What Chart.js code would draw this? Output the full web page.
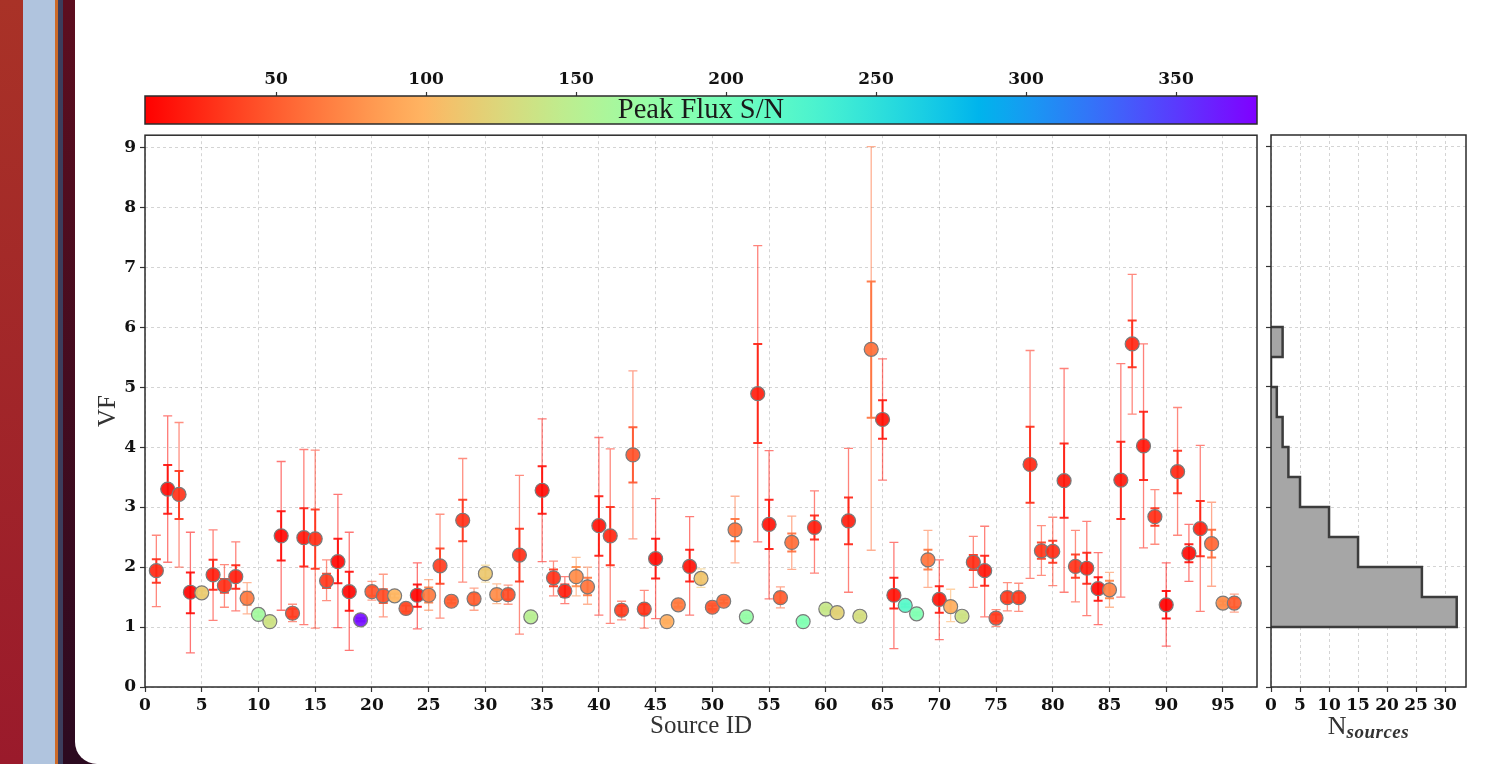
<!DOCTYPE html>
<html>
<head>
<meta charset="utf-8">
<title>VF per source</title>
<script src="https://cdn.jsdelivr.net/npm/chart.js@4.4.1/dist/chart.umd.min.js"></script>
<style>
  html, body { margin: 0; padding: 0; }
  body { width: 1485px; height: 764px; overflow: hidden; position: relative; background: #2c0a20; }
  .strip { position: absolute; top: 0; height: 764px; }
  #panel { position: absolute; left: 75px; top: 0; width: 1410px; height: 764px; background: #fff; border-bottom-left-radius: 22px; }
  .box { position: absolute; }
  #histTitle { position: absolute; left: 1271px; width: 195px; top: 711px; line-height: 30px; text-align: center;
               font-family: "Liberation Serif", serif; font-size: 26px; color: #333; }
  #histTitle span { font-style: italic; font-weight: bold; font-size: 19px; position: relative; top: 4px; letter-spacing: 0.5px; }
</style>
</head>
<body>
<div class="strip" style="left:0;width:23px;background:linear-gradient(#a93227,#9a1a2b)"></div>
<div class="strip" style="left:23px;width:32px;background:#b0c4de"></div>
<div class="strip" style="left:55px;width:3px;background:#cd6a28"></div>
<div class="strip" style="left:58px;width:5px;background:#3c3d5c"></div>
<div class="strip" style="left:63px;width:12px;background:linear-gradient(#5d0e1f,#2c0a20)"></div>
<div id="panel"></div>

<div class="box" style="left:80px;top:40px"><canvas id="colorbar" width="1190" height="88"></canvas></div>
<div class="box" style="left:80px;top:121px"><canvas id="mainChart" width="1190" height="624"></canvas></div>
<div class="box" style="left:1230px;top:125px"><canvas id="histChart" width="255" height="620"></canvas></div>
<div id="histTitle">N<span>sources</span></div>

<script>
// Source IDs (x axis)
const sourceIds = [1, 2, 3, 4, 5, 6, 7, 8, 9, 10, 11, 12, 13, 14, 15, 16, 17, 18, 19, 20,
  21, 22, 23, 24, 25, 26, 27, 28, 29, 30, 31, 32, 33, 34, 35, 36, 37, 38, 39, 40,
  41, 42, 43, 44, 45, 46, 47, 48, 49, 50, 51, 52, 53, 54, 55, 56, 57, 58, 59, 60,
  61, 62, 63, 64, 65, 66, 67, 68, 69, 70, 71, 72, 73, 74, 75, 76, 77, 78, 79, 80,
  81, 82, 83, 84, 85, 86, 87, 88, 89, 90, 91, 92, 93, 94, 95, 96];

// VF value per source
const vf = [1.94, 3.30, 3.21, 1.58, 1.57, 1.87, 1.69, 1.84, 1.48, 1.21, 1.09, 2.52, 1.23, 2.49, 2.47, 1.77, 2.09, 1.59, 1.12, 1.59,
  1.52, 1.52, 1.31, 1.53, 1.53, 2.02, 1.43, 2.78, 1.47, 1.89, 1.54, 1.54, 2.20, 1.17, 3.28, 1.82, 1.60, 1.84, 1.67, 2.69,
  2.52, 1.28, 3.87, 1.30, 2.14, 1.09, 1.37, 2.01, 1.81, 1.33, 1.43, 2.62, 1.17, 4.89, 2.71, 1.49, 2.41, 1.09, 2.66, 1.30,
  1.24, 2.77, 1.18, 5.63, 4.46, 1.53, 1.36, 1.22, 2.12, 1.46, 1.34, 1.18, 2.08, 1.94, 1.15, 1.49, 1.49, 3.71, 2.27, 2.26,
  3.44, 2.01, 1.98, 1.64, 1.62, 3.45, 5.72, 4.02, 2.84, 1.37, 3.59, 2.23, 2.64, 2.39, 1.40, 1.40];

// Peak flux S/N per source (sets marker colour)
const snr = [25, 12, 30, 8, 115, 20, 28, 20, 65, 165, 135, 10, 35, 18, 28, 33, 10, 10, 370, 45,
  42, 100, 40, 8, 65, 35, 50, 30, 50, 113, 75, 42, 28, 150, 12, 30, 20, 75, 62, 15,
  25, 35, 45, 30, 12, 95, 65, 15, 110, 45, 55, 60, 175, 20, 15, 50, 58, 190, 20, 140,
  120, 20, 130, 60, 15, 15, 220, 190, 62, 15, 95, 135, 28, 18, 35, 33, 33, 25, 32, 27,
  18, 30, 20, 12, 70, 18, 25, 18, 28, 6, 25, 12, 20, 55, 75, 50];

// inner (1 sigma) error bounds
const innerLo = [1.74, 2.89, 2.80, 1.23, 1.53, 1.62, 1.57, 1.64, 1.37, 1.18, 1.07, 2.11, 1.17, 2.01, 1.97, 1.65, 1.73, 1.27, 1.10, 1.52,
  1.40, 1.49, 1.26, 1.34, 1.41, 1.72, 1.40, 2.43, 1.38, 1.82, 1.46, 1.46, 1.76, 1.15, 2.89, 1.68, 1.50, 1.68, 1.53, 2.19,
  2.03, 1.20, 3.41, 1.22, 1.81, 1.07, 1.34, 1.76, 1.73, 1.30, 1.40, 2.43, 1.15, 4.07, 2.30, 1.40, 2.26, 1.07, 2.46, 1.28,
  1.22, 2.38, 1.16, 4.49, 4.14, 1.31, 1.34, 1.20, 1.96, 1.24, 1.25, 1.16, 1.95, 1.69, 1.10, 1.42, 1.41, 3.07, 2.14, 2.07,
  2.82, 1.82, 1.72, 1.44, 1.48, 2.80, 5.33, 3.45, 2.69, 1.14, 3.23, 2.08, 2.18, 2.16, 1.37, 1.33];
const innerHi = [2.13, 3.70, 3.60, 1.91, 1.61, 2.12, 1.80, 2.03, 1.59, 1.25, 1.11, 2.93, 1.30, 2.98, 2.96, 1.89, 2.47, 1.92, 1.14, 1.67,
  1.63, 1.55, 1.36, 1.71, 1.66, 2.31, 1.46, 3.12, 1.56, 1.96, 1.63, 1.62, 2.64, 1.19, 3.68, 1.96, 1.71, 2.00, 1.82, 3.18,
  3.00, 1.35, 4.33, 1.38, 2.47, 1.11, 1.40, 2.29, 1.89, 1.36, 1.46, 2.80, 1.19, 5.72, 3.12, 1.58, 2.56, 1.11, 2.86, 1.32,
  1.26, 3.16, 1.20, 6.76, 4.78, 1.82, 1.38, 1.24, 2.29, 1.68, 1.43, 1.20, 2.20, 2.19, 1.21, 1.58, 1.57, 4.34, 2.41, 2.44,
  4.06, 2.21, 2.24, 1.83, 1.77, 4.09, 6.11, 4.59, 2.98, 1.60, 3.94, 2.38, 3.10, 2.62, 1.43, 1.48];

// outer error bounds
const outerLo = [1.34, 2.08, 2.00, 0.57, 1.50, 1.11, 1.33, 1.27, 1.22, 1.16, 1.05, 1.28, 1.09, 1.04, 0.98, 1.44, 0.99, 0.61, 1.08, 1.45,
  1.17, 1.46, 1.22, 0.97, 1.28, 1.15, 1.37, 1.75, 1.28, 1.75, 1.39, 1.38, 0.88, 1.13, 2.09, 1.52, 1.39, 1.52, 1.38, 1.20,
  1.06, 1.12, 2.47, 0.98, 1.14, 1.05, 1.31, 1.20, 1.66, 1.27, 1.37, 2.07, 1.13, 2.42, 1.47, 1.32, 1.96, 1.05, 1.90, 1.26,
  1.20, 1.58, 1.14, 2.28, 3.45, 0.64, 1.32, 1.18, 1.66, 0.79, 1.09, 1.14, 1.66, 1.17, 1.01, 1.27, 1.26, 1.81, 1.86, 1.69,
  1.58, 1.42, 1.19, 1.04, 1.33, 1.50, 4.55, 2.32, 2.38, 0.68, 2.53, 1.76, 1.26, 1.68, 1.34, 1.25];
const outerHi = [2.53, 4.52, 4.41, 2.58, 1.64, 2.62, 2.04, 2.42, 1.74, 1.29, 1.13, 3.76, 1.38, 3.96, 3.95, 2.12, 3.21, 2.58, 1.16, 1.76,
  1.88, 1.58, 1.40, 2.07, 1.79, 2.88, 1.49, 3.81, 1.65, 2.03, 1.72, 1.70, 3.53, 1.21, 4.47, 2.10, 1.84, 2.16, 2.00, 4.16,
  3.97, 1.43, 5.27, 1.61, 3.14, 1.13, 1.43, 2.84, 1.97, 1.39, 1.49, 3.18, 1.21, 7.36, 3.94, 1.67, 2.85, 1.13, 3.27, 1.34,
  1.28, 3.98, 1.22, 9.01, 5.47, 2.41, 1.40, 1.26, 2.61, 2.12, 1.63, 1.22, 2.51, 2.68, 1.29, 1.74, 1.73, 5.61, 2.69, 2.83,
  5.31, 2.61, 2.76, 2.24, 1.91, 5.39, 6.88, 5.72, 3.29, 2.07, 4.66, 2.71, 4.03, 3.08, 1.46, 1.55];

// histogram of VF (right panel)
const binEdges = [1.0, 1.5, 2.0, 2.5, 3.0, 3.5, 4.0, 4.5, 5.0, 5.5, 6.0];
const histCounts = [32, 26, 15, 10, 5, 3, 2, 1, 0, 2];

// colour bar range
const snMin = 6.3;
const snMax = 377;

// matplotlib "rainbow_r": low S/N red, high S/N purple
function snColor(sn) {
  let t = (sn - snMin) / (snMax - snMin);
  t = Math.max(0, Math.min(1, t));
  const x = 1 - t;
  const r = Math.min(1, Math.abs(2 * x - 0.5));
  const g = Math.sin(Math.PI * x);
  const b = Math.cos(Math.PI * x / 2);
  return [Math.round(r * 255), Math.round(g * 255), Math.round(b * 255)];
}
const rgba = (c, a) => `rgba(${c[0]},${c[1]},${c[2]},${a})`;

const tickFont = { family: 'DejaVu Serif', weight: 'bold', size: 17 };
const titleFont = { family: 'Liberation Serif', size: 25 };
const gridColor = 'rgba(0,0,0,0.17)';

// box around the plotting area
const framePlugin = {
  id: 'frame',
  afterDraw(chart) {
    const { ctx, chartArea: a } = chart;
    ctx.save();
    ctx.strokeStyle = '#2b2b2b';
    ctx.lineWidth = 1.5;
    ctx.strokeRect(a.left, a.top, a.right - a.left, a.bottom - a.top);
    ctx.restore();
  }
};

// two-level error bars under the markers
const errorBarPlugin = {
  id: 'errorBars',
  beforeDatasetsDraw(chart) {
    const { ctx, scales: { x, y } } = chart;
    ctx.save();
    function drawBar(px, lo, hi, color, w) {
      const yLo = y.getPixelForValue(lo);
      const yHi = y.getPixelForValue(hi);
      ctx.strokeStyle = color;
      ctx.lineWidth = w;
      ctx.beginPath();
      ctx.moveTo(px, yLo); ctx.lineTo(px, yHi);
      ctx.moveTo(px - 4.5, yLo); ctx.lineTo(px + 4.5, yLo);
      ctx.moveTo(px - 4.5, yHi); ctx.lineTo(px + 4.5, yHi);
      ctx.stroke();
    }
    sourceIds.forEach((id, i) => {
      const px = x.getPixelForValue(id);
      const c = snColor(snr[i]);
      drawBar(px, outerLo[i], outerHi[i], rgba(c, 0.55), 1.3);
      drawBar(px, innerLo[i], innerHi[i], rgba(c, 0.9), 2);
    });
    ctx.restore();
  }
};

// main scatter
new Chart(document.getElementById('mainChart'), {
  type: 'scatter',
  data: {
    datasets: [{
      data: sourceIds.map((id, i) => ({ x: id, y: vf[i] })),
      pointRadius: 7,
      pointHoverRadius: 7,
      pointBackgroundColor: snr.map(s => rgba(snColor(s), 0.92)),
      pointBorderColor: '#7a7a7a',
      pointBorderWidth: 1.2
    }]
  },
  options: {
    responsive: false,
    animation: false,
    layout: { padding: { left: 10, right: 13, top: 10, bottom: 3 } },
    plugins: { legend: { display: false }, tooltip: { enabled: false } },
    scales: {
      x: {
        type: 'linear', min: 0, max: 98,
        ticks: { stepSize: 5, includeBounds: false, autoSkip: false, maxRotation: 0, padding: 3, color: '#111', font: tickFont },
        grid: { color: gridColor, tickColor: '#333', tickLength: 5, tickWidth: 1.2 },
        border: { display: false, dash: [3, 3] },
        title: { display: true, text: 'Source ID', color: '#333', font: titleFont, padding: { top: 0, bottom: 1 } },
        afterFit: s => { s.height = 55; }
      },
      y: {
        type: 'linear', min: 0, max: 9.2,
        ticks: { stepSize: 1, includeBounds: false, padding: 4, color: '#111', font: tickFont },
        grid: { color: gridColor, tickColor: '#333', tickLength: 5, tickWidth: 1.2 },
        border: { display: false, dash: [3, 3] },
        title: { display: true, text: 'VF', color: '#333', font: titleFont, padding: { top: 3, bottom: 0 } },
        afterFit: s => { s.width = 55; }
      }
    }
  },
  plugins: [errorBarPlugin, framePlugin]
});

// colour bar
const colorbarPlugin = {
  id: 'colorbarFill',
  beforeDatasetsDraw(chart) {
    const { ctx, chartArea: a } = chart;
    const grad = ctx.createLinearGradient(a.left, 0, a.right, 0);
    for (let k = 0; k <= 40; k++) {
      const s = k / 40;
      grad.addColorStop(s, rgba(snColor(snMin + s * (snMax - snMin)), 1));
    }
    ctx.save();
    ctx.fillStyle = grad;
    ctx.fillRect(a.left, a.top, a.right - a.left, a.bottom - a.top);
    ctx.restore();
  },
  afterDraw(chart) {
    const { ctx, chartArea: a } = chart;
    ctx.save();
    ctx.fillStyle = '#1a1a1a';
    ctx.font = '28.5px "Liberation Serif"';
    ctx.textAlign = 'center';
    ctx.textBaseline = 'middle';
    ctx.fillText('Peak Flux S/N', (a.left + a.right) / 2, (a.top + a.bottom) / 2 + 1);
    ctx.restore();
  }
};

new Chart(document.getElementById('colorbar'), {
  type: 'scatter',
  data: { datasets: [{ data: [] }] },
  options: {
    responsive: false,
    animation: false,
    layout: { padding: { left: 65, right: 13, top: 10, bottom: 4 } },
    plugins: { legend: { display: false }, tooltip: { enabled: false } },
    scales: {
      x: {
        type: 'linear', position: 'top', min: snMin, max: snMax,
        ticks: { stepSize: 50, includeBounds: false, autoSkip: false, maxRotation: 0, padding: 2, color: '#111', font: tickFont },
        grid: { drawOnChartArea: false, tickColor: '#333', tickLength: 4, tickWidth: 1.2 },
        border: { display: false },
        afterFit: s => { s.height = 46; }
      },
      y: { display: false, min: 0, max: 1 }
    }
  },
  plugins: [colorbarPlugin, framePlugin]
});

// histogram outline built from bin edges and counts
const histOutline = [{ x: 0, y: binEdges[0] }];
histCounts.forEach((n, i) => {
  histOutline.push({ x: n, y: binEdges[i] });
  histOutline.push({ x: n, y: binEdges[i + 1] });
});
histOutline.push({ x: 0, y: binEdges[binEdges.length - 1] });

new Chart(document.getElementById('histChart'), {
  type: 'scatter',
  data: {
    datasets: [{
      data: histOutline,
      showLine: true,
      fill: 'shape',
      tension: 0,
      backgroundColor: '#a6a6a6',
      borderColor: '#3c3c3c',
      borderWidth: 2.5,
      pointRadius: 0
    }]
  },
  options: {
    responsive: false,
    animation: false,
    layout: { padding: { left: 21, right: 19, top: 10, bottom: 3 } },
    plugins: { legend: { display: false }, tooltip: { enabled: false } },
    scales: {
      x: {
        type: 'linear', min: 0, max: 33.6,
        ticks: { stepSize: 5, includeBounds: false, autoSkip: false, maxRotation: 0, padding: 3, color: '#111', font: tickFont },
        grid: { color: gridColor, tickColor: '#333', tickLength: 5, tickWidth: 1.2 },
        border: { display: false, dash: [3, 3] },
        afterFit: s => { s.height = 55; }
      },
      y: {
        type: 'linear', min: 0, max: 9.2,
        ticks: { stepSize: 1, includeBounds: false, display: false },
        grid: { color: gridColor, tickColor: '#333', tickLength: 5, tickWidth: 1.2 },
        border: { display: false, dash: [3, 3] },
        afterFit: s => { s.width = 20; }
      }
    }
  },
  plugins: [framePlugin]
});
</script>
</body>
</html>
